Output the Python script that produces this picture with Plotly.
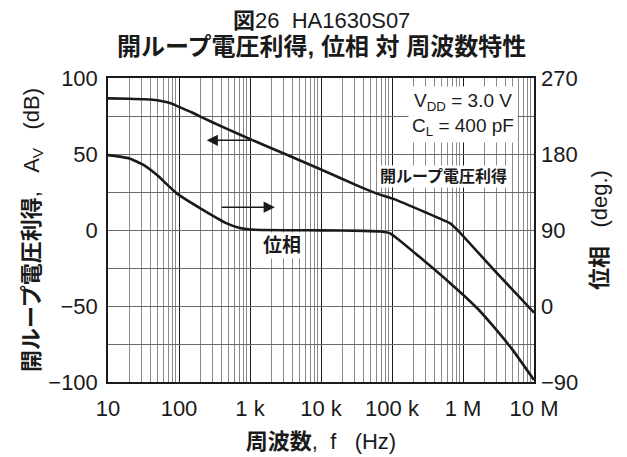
import plotly.graph_objects as go

# ---- data ----
gain_freq = [10, 20, 40, 61, 80, 100, 150, 200, 500, 1100, 3000, 10000, 35000, 60000,
             100000, 300000, 660000, 820000, 2700000, 10000000]
gain_db = [86.6, 86.3, 85.8, 84.5, 83.0, 81.0, 77.5, 74.6, 66.0, 59.0, 50.3, 39.8, 28.5, 24.1,
           20.8, 11.5, 4.4, 0.4, -26.0, -54.4]

phase_freq = [10, 20, 31.6, 49, 93, 200, 470, 700, 1000, 10000, 40000, 70000, 94000,
              660000, 1600000, 2700000, 5000000, 10000000]
phase_deg = [178.7, 174.8, 167.0, 155.0, 133.4, 115.7, 97.9, 92.7, 90.5, 89.6, 89.0, 88.2, 86.0,
             27.0, -3.0, -24.5, -52.0, -87.7]

x_tickvals = [10, 100, 1000, 10000, 100000, 1000000, 10000000]
x_ticktext = ["10", "100", "1 k", "10 k", "100 k", "1 M", "10 M"]
y_tickvals = [-100, -75, -50, -25, 0, 25, 50, 75, 100]
y_ticktext = ["\u2212100", "", "\u221250", "", "0", "", "50", "", "100"]
y2_tickvals = [-90, 0, 90, 180, 270]
y2_ticktext = ["\u221290", "0", "90", "180", "270"]

FONT = "Liberation Sans, Arial, Noto Sans CJK JP, sans-serif"
NB = "\u00a0"

fig = go.Figure()
fig.add_trace(go.Scatter(x=gain_freq, y=gain_db, mode="lines",
                         line=dict(color="#1a1a1a", width=2.6, shape="spline", smoothing=0.35),
                         yaxis="y", showlegend=False, hoverinfo="skip"))
fig.add_trace(go.Scatter(x=phase_freq, y=phase_deg, mode="lines",
                         line=dict(color="#1a1a1a", width=2.6, shape="spline", smoothing=0.45),
                         yaxis="y2", showlegend=False, hoverinfo="skip"))

fig.update_layout(
    width=627, height=457,
    margin=dict(l=100, r=101, t=70, b=83),
    paper_bgcolor="white", plot_bgcolor="white",
    font=dict(family=FONT, size=22, color="#1a1a1a"),
    showlegend=False,
    xaxis=dict(type="log", range=[1, 7], tickmode="array", tickvals=x_tickvals,
               ticktext=x_ticktext, showgrid=True, gridcolor="#1a1a1a", gridwidth=1,
               showline=True, linecolor="#1a1a1a", linewidth=1.5, mirror=True,
               ticks="", ticklabelstandoff=6, zeroline=False,
               minor=dict(dtick="D1", showgrid=True, gridcolor="#8a8a8a", gridwidth=1, ticks=""),
               title=dict(text=f"<b>周波数</b>,{NB}{NB}f{NB}{NB}{NB}(Hz)", standoff=13,
                          font=dict(size=22))),
    yaxis=dict(range=[-100, 100], tickmode="array", tickvals=y_tickvals, ticktext=y_ticktext,
               showgrid=True, gridcolor="#6a6a6a", gridwidth=1, zeroline=False,
               showline=True, linecolor="#1a1a1a", linewidth=1.5, mirror=True,
               ticks="", ticklabelstandoff=4,
               title=dict(text=f"<b>開ループ電圧利得</b>,{NB}{NB}{NB}A<sub>V</sub>{NB}{NB}{NB}(dB)",
                          standoff=3, font=dict(size=22))),
    yaxis2=dict(range=[-90, 270], overlaying="y", side="right", tickmode="array",
                tickvals=y2_tickvals, ticktext=y2_ticktext, showgrid=False, zeroline=False,
                ticks="", ticklabelstandoff=6,
                title=dict(text=f"<b>位相</b>{NB}{NB}{NB}(deg.)", standoff=14, font=dict(size=22))),
)

annotations = [
    dict(text="<b>図</b>26" + NB * 2 + "HA1630S07", xref="paper", yref="paper", x=0.5, y=1.19,
         showarrow=False, font=dict(size=22), xanchor="center", yanchor="middle"),
    dict(text="<b>開ループ電圧利得, 位相 対 周波数特性</b>", xref="paper", yref="paper", x=0.5,
         y=1.103, showarrow=False, font=dict(size=24), xanchor="center", yanchor="middle"),
    dict(text="V<sub>DD</sub> = 3.0 V<br>C<sub>L</sub> = 400 pF", x=6.0, y=76.3, xref="x", yref="y",
         showarrow=False, bgcolor="white", borderpad=3, font=dict(size=19), align="center"),
    dict(text="<b>開ループ電圧利得</b>", x=5.72, y=35.5, xref="x", yref="y", showarrow=False,
         bgcolor="white", borderpad=2, font=dict(size=16)),
    dict(text="<b>位相</b>", x=3.45, y=-10.5, xref="x", yref="y", showarrow=False,
         bgcolor="white", borderpad=2, font=dict(size=19)),
    # arrows
    dict(x=2.39, y=59, ax=3.04, ay=59, xref="x", yref="y", axref="x", ayref="y", text="",
         showarrow=True, arrowhead=2, arrowsize=1.4, arrowwidth=1.6, arrowcolor="#1a1a1a"),
    dict(x=3.35, y=15, ax=2.58, ay=15, xref="x", yref="y", axref="x", ayref="y", text="",
         showarrow=True, arrowhead=2, arrowsize=1.4, arrowwidth=1.6, arrowcolor="#1a1a1a"),
]
fig.update_layout(annotations=annotations)

fig.write_html("out.html")
